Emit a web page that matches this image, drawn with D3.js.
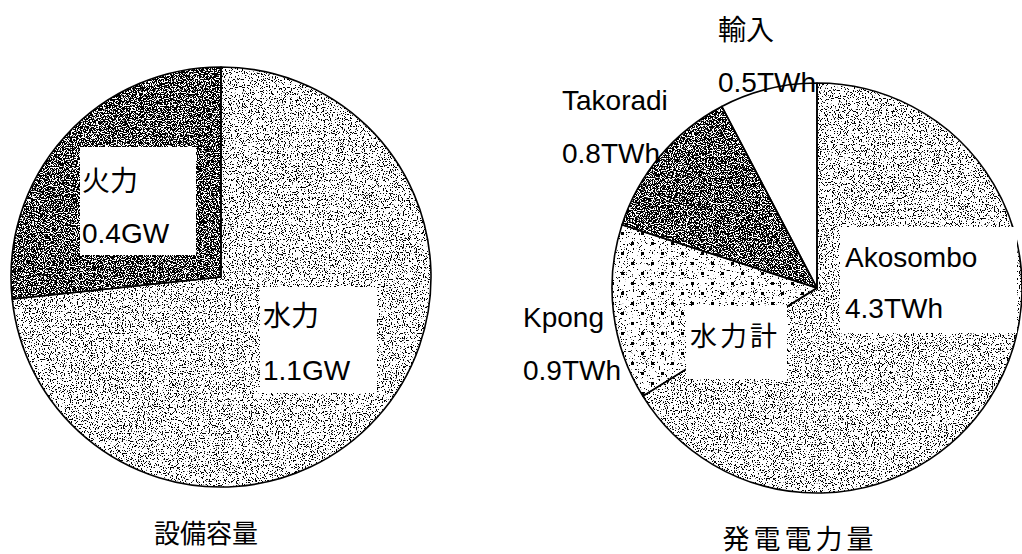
<!DOCTYPE html>
<html>
<head>
<meta charset="utf-8">
<script src="https://cdn.jsdelivr.net/npm/d3@7"></script>
<style>
  html, body { margin: 0; padding: 0; background: #fff; }
  svg { display: block; }
  text { font-family: "Liberation Sans", Arial, "Noto Sans CJK JP", sans-serif; fill: #000; }
</style>
</head>
<body>
<svg id="chart" width="1022" height="554"></svg>
<script>
// 設備容量 (GW)
const capacityNames = ["水力", "火力"];
const capacityValues = [1.1, 0.4];
const capacityUnit = "GW";

// 発電電力量 (TWh)
const generationNames = ["Akosombo", "Kpong", "Takoradi", "輸入"];
const generationValues = [4.3, 0.9, 0.8, 0.5];
const generationUnit = "TWh";

const titles = ["設備容量", "発電電力量"];
const hydroTotalLabel = "水力計";

const svg = d3.select("#chart");
const defs = svg.append("defs");

// stipple texture: thresholded noise, clipped to the shape and laid over its white fill
function grainFilter(id, threshold, seed) {
  const f = defs.append("filter").attr("id", id)
    .attr("color-interpolation-filters", "sRGB")
    .attr("x", 0).attr("y", 0).attr("width", 1).attr("height", 1);
  f.append("feTurbulence").attr("type", "fractalNoise").attr("baseFrequency", 0.85)
    .attr("numOctaves", 2).attr("seed", seed).attr("result", "noise");
  f.append("feColorMatrix").attr("in", "noise").attr("type", "matrix")
    .attr("values", `0 0 0 0 0  0 0 0 0 0  0 0 0 0 0  30 0 0 0 ${-30 * threshold}`)
    .attr("result", "mask");
  f.append("feFlood").attr("flood-color", "#000").attr("result", "ink");
  f.append("feComposite").attr("in", "ink").attr("in2", "mask").attr("operator", "in").attr("result", "dots");
  f.append("feComposite").attr("in", "dots").attr("in2", "SourceGraphic").attr("operator", "in").attr("result", "clipped");
  const m = f.append("feMerge");
  m.append("feMergeNode").attr("in", "SourceGraphic");
  m.append("feMergeNode").attr("in", "clipped");
}
grainFilter("grainLight", 0.59, 3);
grainFilter("grainDark", 0.45, 7);
grainFilter("grainSparse", 0.65, 11);

// coarse dot screen for Kpong
const dotPat = defs.append("pattern").attr("id", "dotScreen")
  .attr("patternUnits", "userSpaceOnUse").attr("width", 20).attr("height", 20);
dotPat.append("rect").attr("width", 20).attr("height", 20).attr("fill", "#fff");
dotPat.append("rect").attr("x", 4).attr("y", 4).attr("width", 3).attr("height", 3).attr("fill", "#000");
dotPat.append("rect").attr("x", 14).attr("y", 14).attr("width", 3).attr("height", 3).attr("fill", "#000");

const fonts = { size: 28 };

function drawPie(opts) {
  const g = svg.append("g").attr("transform", `translate(${opts.cx},${opts.cy})`);
  const pie = d3.pie().sort(null).value(d => d.value).startAngle(0).endAngle(2 * Math.PI);
  const arcs = pie(opts.names.map((n, i) => ({ name: n, value: opts.values[i] })));
  const arc = d3.arc().innerRadius(0).outerRadius(opts.r);

  g.selectAll("path.fill").data(arcs).join("path")
    .attr("class", "fill")
    .attr("d", arc)
    .attr("fill", (d, i) => opts.fills[i].fill)
    .attr("filter", (d, i) => opts.fills[i].filter ? `url(#${opts.fills[i].filter})` : null);

  g.selectAll("path.edge").data(arcs).join("path")
    .attr("class", "edge")
    .attr("d", arc)
    .attr("fill", "none")
    .attr("stroke", "#000")
    .attr("stroke-width", 1.6)
    .attr("stroke-linejoin", "round");
  return arcs;
}

const capArcs = drawPie({
  cx: 221, cy: 277, r: 210,
  names: capacityNames, values: capacityValues,
  fills: [
    { fill: "#fff", filter: "grainLight" },
    { fill: "#fff", filter: "grainDark" }
  ]
});

const genArcs = drawPie({
  cx: 817, cy: 288, r: 205,
  names: generationNames, values: generationValues,
  fills: [
    { fill: "#fff", filter: "grainLight" },
    { fill: "url(#dotScreen)", filter: "grainSparse" },
    { fill: "#fff", filter: "grainDark" },
    { fill: "#fff", filter: null }
  ]
});

// white label boxes
const boxes = [
  [80, 147, 116, 108],
  [260, 287, 117, 106],
  [840, 227, 177, 106],
  [686, 306, 101, 73]
];
svg.append("g").selectAll("rect").data(boxes).join("rect")
  .attr("x", d => d[0]).attr("y", d => d[1])
  .attr("width", d => d[2]).attr("height", d => d[3])
  .attr("fill", "#fff");

// two-line labels: name, then value with unit
const capLabelPos = [[263, 326, 380], [82, 191, 243]];
const genLabelPos = [[845, 267, 318], [523, 327, 380], [562, 110, 163], [718, 40, 92]];

function labels(arcs, pos, unit) {
  const g = svg.append("g").attr("font-size", fonts.size);
  arcs.forEach((a, i) => {
    const [x, y1, y2] = pos[i];
    g.append("text").attr("x", x).attr("y", y1).text(a.data.name);
    g.append("text").attr("x", x).attr("y", y2).text(`${a.data.value}${unit}`);
  });
}
labels(capArcs, capLabelPos, capacityUnit);
labels(genArcs, genLabelPos, generationUnit);

svg.append("text").attr("x", 690).attr("y", 346)
  .attr("font-size", 27).attr("letter-spacing", 3)
  .text(hydroTotalLabel);

// titles under each pie
svg.append("text").attr("x", 206).attr("y", 543)
  .attr("text-anchor", "middle").attr("font-size", 26)
  .text(titles[0]);
svg.append("text").attr("x", 800).attr("y", 549)
  .attr("text-anchor", "middle").attr("font-size", 27).attr("letter-spacing", 4)
  .text(titles[1]);
</script>
</body>
</html>
